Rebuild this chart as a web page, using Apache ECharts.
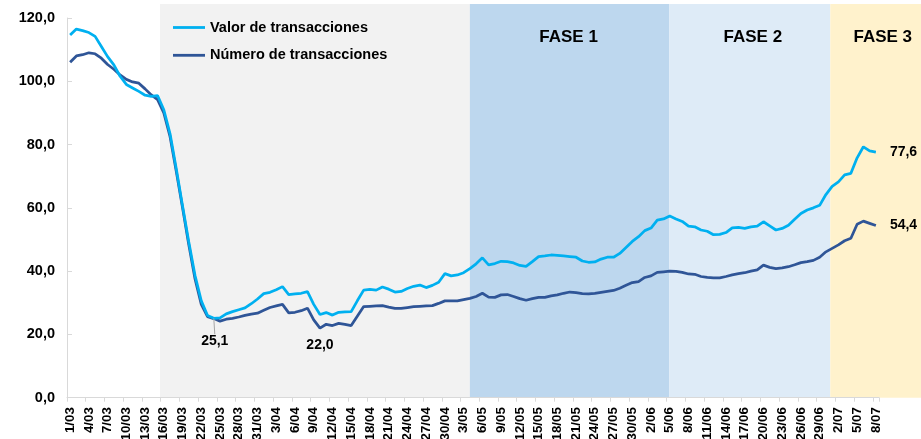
<!DOCTYPE html>
<html>
<head>
<meta charset="utf-8">
<script src="https://cdn.jsdelivr.net/npm/echarts@6/dist/echarts.min.js"></script>
<style>
html,body{margin:0;padding:0;background:#fff;}
#chart{width:921px;height:439px;}
</style>
</head>
<body>
<div id="chart"></div>
<script>
// ---- DATA ----
const categories = [
'1/03','2/03','3/03','4/03','5/03','6/03','7/03','8/03','9/03','10/03',
'11/03','12/03','13/03','14/03','15/03','16/03','17/03','18/03','19/03','20/03',
'21/03','22/03','23/03','24/03','25/03','26/03','27/03','28/03','29/03','30/03',
'31/03','1/04','2/04','3/04','4/04','5/04','6/04','7/04','8/04','9/04',
'10/04','11/04','12/04','13/04','14/04','15/04','16/04','17/04','18/04','19/04',
'20/04','21/04','22/04','23/04','24/04','25/04','26/04','27/04','28/04','29/04',
'30/04','1/05','2/05','3/05','4/05','5/05','6/05','7/05','8/05','9/05',
'10/05','11/05','12/05','13/05','14/05','15/05','16/05','17/05','18/05','19/05',
'20/05','21/05','22/05','23/05','24/05','25/05','26/05','27/05','28/05','29/05',
'30/05','31/05','1/06','2/06','3/06','4/06','5/06','6/06','7/06','8/06',
'9/06','10/06','11/06','12/06','13/06','14/06','15/06','16/06','17/06','18/06',
'19/06','20/06','21/06','22/06','23/06','24/06','25/06','26/06','27/06','28/06',
'29/06','30/06','1/07','2/07','3/07','4/07','5/07','6/07','7/07','8/07'
];

const valorTransacciones = [
114.6,116.5,116.0,115.4,114.2,111.0,107.8,105.2,101.6,99.0,
97.9,96.8,95.6,95.2,95.5,91.0,83.4,72.3,60.6,49.2,
38.6,30.6,26.0,25.1,25.2,26.5,27.2,27.8,28.4,29.7,
31.2,32.9,33.3,34.1,35.1,32.6,32.8,33.0,33.5,29.5,
26.3,26.9,26.1,27.0,27.1,27.2,30.7,34.0,34.2,34.0,
35.0,34.3,33.4,33.6,34.5,35.2,35.6,34.8,35.5,36.5,
39.2,38.5,38.8,39.5,40.8,42.3,44.2,42.0,42.4,43.1,
43.0,42.6,41.8,41.5,43.0,44.6,44.8,45.1,45.0,44.8,
44.6,44.4,43.2,42.8,42.9,43.8,44.4,44.4,45.6,47.5,
49.4,50.9,52.8,53.6,56.1,56.5,57.4,56.5,55.7,54.2,
54.0,53.0,52.6,51.5,51.6,52.2,53.7,53.8,53.5,54.0,
54.2,55.6,54.3,53.0,53.5,54.5,56.4,58.2,59.3,60.0,
60.8,64.2,66.8,68.2,70.4,70.9,75.8,79.3,78.0,77.6
];

const numeroTransacciones = [
106.0,108.0,108.4,109.0,108.7,107.3,105.3,103.8,102.0,100.6,
99.8,99.4,97.6,95.7,94.2,90.0,82.5,71.5,60.0,48.3,
37.5,29.5,25.6,25.0,24.2,24.8,25.1,25.5,26.0,26.4,
26.7,27.6,28.5,29.0,29.5,26.8,27.0,27.5,28.3,24.6,
22.0,23.2,22.8,23.5,23.2,22.8,25.8,28.8,28.9,29.0,
29.1,28.6,28.2,28.2,28.5,28.8,28.9,29.0,29.1,29.8,
30.6,30.6,30.6,31.0,31.4,32.0,33.0,31.8,31.7,32.5,
32.6,32.0,31.3,30.8,31.3,31.7,31.7,32.2,32.5,33.0,
33.4,33.2,32.9,32.8,33.0,33.3,33.6,33.9,34.6,35.5,
36.4,36.7,38.0,38.5,39.6,39.8,40.0,39.9,39.6,39.1,
39.0,38.3,38.0,37.9,37.9,38.3,38.8,39.2,39.5,40.0,
40.4,41.9,41.2,40.8,41.0,41.4,42.0,42.7,43.0,43.4,
44.4,46.1,47.2,48.3,49.6,50.4,54.8,55.8,55.1,54.4
];

const seriesNames = ['Valor de transacciones', 'Número de transacciones'];
const yTickValues = [0, 20, 40, 60, 80, 100, 120];

// phases (positions in category units along the date axis)
const phaseNames = ['', 'FASE 1', 'FASE 2', 'FASE 3'];
const phaseStart = [14.9, 64.5, 96.4, 122.2];
const phaseEnd   = [64.5, 96.4, 122.2, null];
const phaseLabelAt = [0, 80.3, 109.8, 130.6];

// labelled points
const labelledValor = [23, 129];
const labelledNumero = [40, 129];

// ---- LAYOUT / STYLE ----
const W = 921;
const GRID_LEFT = 67, GRID_RIGHT = 42, GRID_TOP = 18, GRID_BOTTOM = 41.3;
const BAND_TOP = 4;
const plotW = W - GRID_LEFT - GRID_RIGHT;
const bandMax = categories.length * (W - GRID_LEFT) / plotW;
const FONT = 'Arial, "Liberation Sans", sans-serif';
const phaseColors = ['#F2F2F2', '#BDD7EE', '#DEEBF7', '#FFF2CC'];
const C_VALOR = '#00B0F0', C_NUM = '#2F5597';
const LEGEND_ICON = 'path://M0,0 L32,0 L32,2.8 L0,2.8 Z';

const fmt = v => Number(v).toFixed(1).replace('.', ',');

const bandData = phaseNames.map((n, i) => [phaseStart[i], phaseEnd[i] == null ? bandMax : phaseEnd[i], phaseLabelAt[i], i]);

const labelStyle = {fontFamily: FONT, fontWeight: 'bold', fontSize: 14, color: '#000'};

const valorData = valorTransacciones.map((v, i) => {
  if (i === labelledValor[0]) return {value: v, label: Object.assign({show: true, position: 'bottom', distance: 12, formatter: p => fmt(p.value)}, labelStyle), labelLine: {show: true, lineStyle: {color: '#A6A6A6', width: 1}}};
  if (i === labelledValor[1]) return {value: v, label: Object.assign({show: true, position: 'right', distance: 14, formatter: p => fmt(p.value)}, labelStyle)};
  return v;
});
const numeroData = numeroTransacciones.map((v, i) => {
  if (i === labelledNumero[0]) return {value: v, label: Object.assign({show: true, position: 'bottom', distance: 10, formatter: p => fmt(p.value)}, labelStyle)};
  if (i === labelledNumero[1]) return {value: v, label: Object.assign({show: true, position: 'right', distance: 14, formatter: p => fmt(p.value)}, labelStyle)};
  return v;
});

const chart = echarts.init(document.getElementById('chart'), null, {renderer: 'canvas'});
chart.setOption({
  animation: false,
  backgroundColor: '#ffffff',
  grid: [
    {left: GRID_LEFT, right: GRID_RIGHT, top: GRID_TOP, bottom: GRID_BOTTOM, containLabel: false, outerBoundsMode: 'none'},
    {left: GRID_LEFT, right: 0, top: BAND_TOP, bottom: GRID_BOTTOM, containLabel: false, outerBoundsMode: 'none'}
  ],
  legend: {
    orient: 'vertical', left: 168, top: 15,
    itemWidth: 32, itemHeight: 14, itemGap: 12.8,
    data: seriesNames.map(n => ({name: n, icon: LEGEND_ICON})),
    textStyle: {fontFamily: FONT, fontWeight: 'bold', fontSize: 14.5, color: '#000'}
  },
  xAxis: [
    {
      type: 'category', gridIndex: 0, data: categories, boundaryGap: true,
      axisLine: {show: true, lineStyle: {color: '#D9D9D9', width: 1}},
      axisTick: {show: true, interval: 2, length: 4, lineStyle: {color: '#D9D9D9'}},
      axisLabel: {interval: 2, rotate: 90, margin: 9.5, fontFamily: FONT, fontWeight: 'bold', fontSize: 13.3, color: '#000'},
      splitLine: {show: false}
    },
    {type: 'value', gridIndex: 1, min: 0, max: bandMax, show: false}
  ],
  yAxis: [
    {
      type: 'value', gridIndex: 0, min: yTickValues[0], max: yTickValues[yTickValues.length - 1], interval: 20,
      axisLine: {show: true, lineStyle: {color: '#D9D9D9', width: 1}},
      axisTick: {show: true, inside: true, length: 5, lineStyle: {color: '#D9D9D9'}},
      axisLabel: {margin: 12, formatter: v => fmt(v), fontFamily: FONT, fontWeight: 'bold', fontSize: 14.5, color: '#000'},
      splitLine: {show: false}
    },
    {type: 'value', gridIndex: 1, min: 0, max: 1, show: false}
  ],
  series: [
    {
      name: seriesNames[0], type: 'line', xAxisIndex: 0, yAxisIndex: 0, z: 4,
      data: valorData, symbol: 'circle', symbolSize: 0.01, showSymbol: true, smooth: false,
      lineStyle: {color: C_VALOR, width: 2.75}, itemStyle: {color: C_VALOR},
      labelLayout: p => (p.dataIndex === labelledValor[0] ? {dy: 4, dx: 1} : {})
    },
    {
      name: seriesNames[1], type: 'line', xAxisIndex: 0, yAxisIndex: 0, z: 3,
      data: numeroData, symbol: 'circle', symbolSize: 0.01, showSymbol: true, smooth: false,
      lineStyle: {color: C_NUM, width: 2.75}, itemStyle: {color: C_NUM}
    },
    {
      type: 'custom', xAxisIndex: 1, yAxisIndex: 1, z: 0, silent: true,
      data: bandData,
      renderItem: (params, api) => {
        const s = api.value(0), e = api.value(1), lx = api.value(2), idx = api.value(3);
        const p0 = api.coord([s, 1]);
        const p1 = api.coord([e, 0]);
        const children = [{
          type: 'rect',
          shape: {x: p0[0], y: p0[1], width: p1[0] - p0[0], height: p1[1] - p0[1]},
          style: {fill: phaseColors[idx]}
        }];
        if (phaseNames[idx]) {
          const pl = api.coord([lx, 1]);
          children.push({
            type: 'text',
            style: {text: phaseNames[idx], x: pl[0], y: pl[1] + 33, align: 'center', verticalAlign: 'middle',
                    font: 'bold 17px ' + FONT, fill: '#000'}
          });
        }
        return {type: 'group', children};
      }
    }
  ]
});
</script>
</body>
</html>
